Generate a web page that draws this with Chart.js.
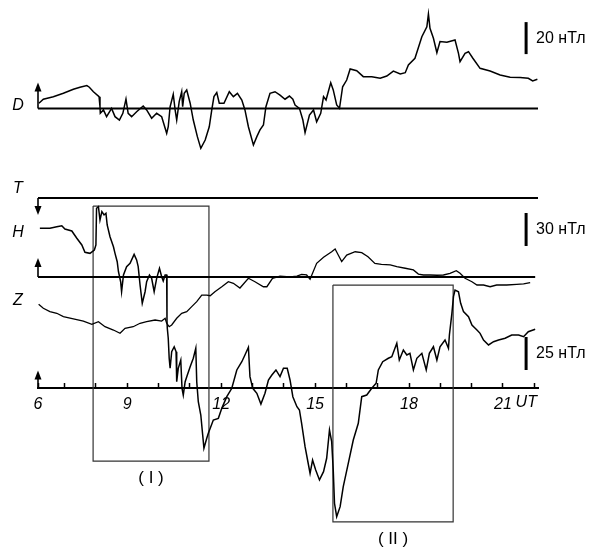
<!DOCTYPE html>
<html>
<head>
<meta charset="utf-8">
<script src="https://cdn.jsdelivr.net/npm/chart.js@4.4.0/dist/chart.umd.min.js"></script>
<style>
  html, body { margin: 0; padding: 0; background: #fff; }
  #wrap { width: 595px; height: 550px; }
</style>
</head>
<body>
<div id="wrap"><canvas id="mag" width="595" height="550"></canvas></div>
<script>
// --- магнитограмма D, H, Z (нТл) по времени UT ---

// время в часах UT и значения в нТл относительно базовой линии
const dTime = [
  6.18, 6.32, 6.64, 6.96, 7.28, 7.49, 7.71, 7.79, 7.92, 8.10,
  8.13, 8.14, 8.24, 8.34, 8.50, 8.61, 8.75, 8.86, 8.96, 9.03,
  9.14, 9.30, 9.51, 9.62, 9.78, 9.94, 10.10, 10.26, 10.31, 10.37,
  10.47, 10.53, 10.58, 10.66, 10.74, 10.77, 10.82, 10.90, 11.01, 11.11,
  11.24, 11.35, 11.49, 11.62, 11.70, 11.77, 11.86, 11.94, 12.09, 12.26,
  12.39, 12.52, 12.66, 12.76, 12.87, 13.03, 13.14, 13.24, 13.35, 13.43,
  13.56, 13.72, 13.88, 14.04, 14.18, 14.29, 14.36, 14.50, 14.61, 14.68,
  14.82, 14.95, 15.05, 15.18, 15.27, 15.35, 15.50, 15.58, 15.69, 15.78,
  15.88, 16.01, 16.12, 16.33, 16.54, 16.81, 17.08, 17.29, 17.50, 17.72,
  17.88, 17.98, 18.19, 18.41, 18.57, 18.62, 18.67, 18.78, 18.89, 18.99,
  19.21, 19.47, 19.58, 19.63, 19.79, 19.90, 20.04, 20.27, 20.59, 20.91,
  21.23, 21.55, 21.81, 21.95, 22.10
];
const dValues = [
  3.3, 5.8, 7.4, 9.5, 12.0, 13.3, 14.3, 13.3, 10.5, 7.4,
  1.1, -3.0, -0.9, -5.1, 0.1, -5.1, -7.2, -3.0, 5.9, -3.0,
  -5.1, -2.0, 1.6, -0.9, -6.1, -3.0, -5.1, -15.5, -11.4, 1.1,
  8.9, -0.9, -7.2, 4.3, 10.5, 1.1, 9.5, 11.6, 3.3, -7.2,
  -17.6, -24.9, -19.7, -11.4, -0.9, 7.4, 9.9, 3.3, 3.3, 10.5,
  7.4, 9.5, 5.3, -0.9, -11.4, -22.8, -17.6, -13.4, -10.3, 1.1,
  9.5, 10.5, 8.4, 5.8, 7.8, 5.8, 2.2, 0.1, -7.2, -15.1,
  -4.1, -0.9, -8.3, -3.0, 7.4, 5.3, 16.1, 11.6, 2.2, 0.1,
  13.6, 17.8, 24.7, 23.6, 19.9, 19.9, 18.9, 20.3, 23.4, 21.6,
  22.4, 27.2, 31.4, 44.9, 51.1, 59.1, 50.1, 43.9, 34.9, 41.8,
  41.4, 42.8, 34.5, 29.3, 34.5, 35.5, 31.4, 25.1, 23.4, 20.9,
  19.5, 19.3, 18.9, 17.2, 18.3
];

const hTime = [
  6.21, 6.53, 6.75, 6.91, 7.01, 7.23, 7.39, 7.55, 7.65, 7.81,
  7.95, 8.00, 8.02, 8.08, 8.13, 8.19, 8.26, 8.32, 8.36, 8.45,
  8.56, 8.61, 8.68, 8.72, 8.79, 8.82, 8.88, 8.98, 9.09, 9.22,
  9.30, 9.35, 9.41, 9.48, 9.57, 9.62, 9.71, 9.78, 9.86, 9.94,
  10.03, 10.10, 10.15, 10.21, 10.26, 10.27, 10.28, 10.31, 10.34, 10.37,
  10.42, 10.50, 10.56, 10.58, 10.63, 10.71, 10.75, 10.79, 10.85, 10.92,
  11.01, 11.11, 11.19, 11.22, 11.27, 11.35, 11.41, 11.45, 11.54, 11.59,
  11.75, 11.91, 12.02, 12.18, 12.34, 12.50, 12.66, 12.76, 12.87, 12.92,
  13.01, 13.14, 13.27, 13.40, 13.51, 13.62, 13.75, 13.88, 13.99, 14.11,
  14.20, 14.29, 14.42, 14.50, 14.57, 14.68, 14.79, 14.84, 14.92, 15.02,
  15.14, 15.27, 15.37, 15.46, 15.53, 15.58, 15.62, 15.69, 15.80, 15.90,
  16.06, 16.22, 16.38, 16.49, 16.65, 16.81, 16.95, 17.02, 17.16, 17.34,
  17.45, 17.61, 17.69, 17.82, 17.93, 18.03, 18.14, 18.25, 18.41, 18.55,
  18.65, 18.78, 18.89, 18.99, 19.15, 19.26, 19.29, 19.37, 19.42, 19.47,
  19.58, 19.65, 19.74, 19.90, 20.01, 20.17, 20.27, 20.38, 20.54, 20.70,
  20.86, 21.07, 21.28, 21.50, 21.66, 21.81, 22.03
];
const hValues = [
  44.3, 44.3, 45.7, 46.6, 43.6, 41.8, 35.2, 29.1, 22.5, 21.5,
  24.5, 29.1, 62.5, 63.9, 51.8, 59.4, 56.4, 57.9, 47.3, 36.6,
  27.5, 21.5, 13.9, 4.8, -4.3, -13.4, 1.8, 9.4, 12.5, 20.6,
  15.5, 9.4, -7.3, -23.9, -13.4, -4.3, 1.8, -1.2, -13.4, -1.2,
  7.9, 0.3, -3.6, 1.8, 1.8, -40.0, -46.6, -55.7, -73.9, -83.0,
  -67.9, -63.4, -67.9, -95.2, -83.0, -75.5, -101.2, -107.3, -95.2, -89.1,
  -81.5, -73.9, -64.8, -95.2, -113.4, -125.5, -143.6, -155.7, -146.6, -142.1,
  -130.0, -128.5, -119.4, -108.8, -101.2, -84.5, -77.0, -70.9, -63.9, -90.6,
  -101.2, -105.7, -115.5, -105.7, -93.6, -89.1, -84.5, -90.6, -83.0, -83.0,
  -93.6, -108.8, -117.9, -120.9, -133.0, -154.3, -170.9, -178.5, -166.4, -175.5,
  -184.5, -177.0, -164.8, -139.1, -149.7, -175.5, -205.7, -217.9, -208.8, -190.6,
  -169.4, -148.2, -133.0, -108.8, -107.3, -101.2, -96.6, -84.5, -77.0, -73.9,
  -72.5, -60.3, -75.5, -66.4, -70.9, -69.4, -84.5, -73.9, -69.4, -84.5,
  -69.4, -63.4, -75.5, -63.4, -57.3, -64.8, -52.7, -33.0, -17.9, -11.8,
  -13.4, -23.9, -31.5, -36.1, -43.6, -48.2, -51.2, -57.3, -61.8, -58.8,
  -57.3, -55.7, -52.7, -52.7, -54.3, -49.7, -47.5
];

const zTime = [
  6.17, 6.32, 6.53, 6.75, 6.96, 7.28, 7.60, 7.87, 8.08, 8.29,
  8.56, 8.77, 8.93, 9.19, 9.41, 9.62, 9.89, 10.10, 10.21, 10.26,
  10.34, 10.42, 10.58, 10.74, 10.90, 11.06, 11.22, 11.38, 11.54, 11.65,
  11.80, 12.02, 12.23, 12.39, 12.60, 12.87, 13.08, 13.35, 13.46, 13.64,
  13.88, 14.20, 14.42, 14.57, 14.73, 14.84, 15.05, 15.27, 15.53, 15.64,
  15.74, 15.85, 16.01, 16.28, 16.49, 16.69, 16.91, 17.12, 17.40, 17.61,
  17.88, 18.14, 18.30, 18.46, 18.67, 18.89, 19.10, 19.31, 19.51, 19.63,
  19.79, 20.01, 20.17, 20.38, 20.59, 20.80, 21.12, 21.44, 21.66, 21.87
];
const zValues = [
  63.8, 60.8, 58.2, 57.0, 54.4, 52.7, 51.1, 48.6, 50.6, 46.8,
  44.3, 41.8, 45.6, 46.8, 49.4, 50.6, 51.9, 51.1, 53.2, 49.4,
  46.8, 48.1, 53.2, 57.0, 58.2, 62.0, 65.8, 70.8, 70.8, 70.3,
  73.3, 77.1, 80.9, 79.7, 76.1, 83.5, 80.9, 77.1, 77.1, 83.5,
  85.2, 84.5, 85.2, 86.5, 86.0, 82.7, 94.8, 99.4, 103.6, 105.7,
  101.1, 96.1, 101.1, 103.6, 102.9, 99.8, 94.8, 94.1, 93.6, 92.3,
  91.1, 89.8, 86.7, 86.0, 86.0, 85.8, 86.0, 87.3, 89.2, 87.3,
  83.5, 80.9, 78.4, 78.4, 77.1, 78.4, 78.4, 78.9, 79.2, 80.2
];

// метки оси времени
const tickHours = [7, 8, 9, 10, 11, 12, 13, 14, 15, 16, 17, 18, 19, 20, 21, 22];
const labelHours = [6, 9, 12, 15, 18, 21];

// масштабные отрезки и выделенные интервалы (I), (II)
const barSizes = [20, 30, 25];
const barLabels = ['20 нТл', '30 нТл', '25 нТл'];
const boxTimes = [[7.91, 11.61], [15.57, 19.41]];
const boxH = [[64.5, -167.3], [-7.3, -222.7]];
const boxLabels = ['( I )', '( II )'];

// --- раскладка (пиксели) ---
const W = 595, HGT = 550;
const X_MIN = 6.15, X_MAX = 22.12;
const layoutCh = {
  yD: { base: 108.5, k: 1.6 },
  yT: { base: 198, k: 1 },
  yH: { base: 277, k: 1.1 },
  yZ: { base: 388.5, k: 1.32 }
};
const barPlace = { t: 21.74, from: { yD: 34, yH: 28.2, yZ: 14 } };
const FONT = "'Liberation Sans', Arial, Helvetica, sans-serif";

function yAxis(id) {
  const c = layoutCh[id];
  return { type: 'linear', display: false, min: -(HGT - c.base) / c.k, max: c.base / c.k };
}

function line(points, axis, width, color) {
  return {
    data: points, yAxisID: axis, borderColor: color || '#000', borderWidth: width,
    pointRadius: 0, tension: 0, fill: false
  };
}

const toPts = (ts, vs) => ts.map((t, i) => ({ x: t, y: vs[i] }));
const flat = [{ x: X_MIN, y: 0 }, { x: X_MAX, y: 0 }];

const datasets = [
  line(flat, 'yD', 2),
  line(flat, 'yT', 2),
  line([{ x: X_MIN, y: 0 }, { x: 22.03, y: 0 }], 'yH', 2),
  line(toPts(dTime, dValues), 'yD', 1.5),
  line(toPts(hTime, hValues), 'yH', 1.5),
  line(toPts(zTime, zValues), 'yZ', 1.3)
];

boxTimes.forEach(([t0, t1], i) => {
  const [top, bot] = boxH[i];
  datasets.push(line([
    { x: t0, y: top }, { x: t1, y: top }, { x: t1, y: bot }, { x: t0, y: bot }, { x: t0, y: top }
  ], 'yH', 1.2, '#333'));
});

['yD', 'yH', 'yZ'].forEach((ax, i) => {
  const f = barPlace.from[ax];
  datasets.push(line([{ x: barPlace.t, y: f }, { x: barPlace.t, y: f + barSizes[i] }], ax, 3));
});

// стрелки, подписи каналов и прочий текст
const decor = {
  id: 'decor',
  afterDraw(chart) {
    const ctx = chart.ctx;
    const xs = chart.scales.x;
    const x0 = xs.getPixelForValue(X_MIN);
    ctx.save();
    ctx.fillStyle = '#000';
    ctx.strokeStyle = '#000';

    // стрелки у базовых линий
    [['yD', -1, 26], ['yT', 1, 17], ['yH', -1, 19], ['yZ', -1, 18]].forEach(([ax, dir, len]) => {
      const y0 = chart.scales[ax].getPixelForValue(0);
      const tip = y0 + dir * len;
      ctx.lineWidth = 1.6;
      ctx.beginPath();
      ctx.moveTo(x0, y0);
      ctx.lineTo(x0, tip - dir * 6);
      ctx.stroke();
      ctx.beginPath();
      ctx.moveTo(x0, tip);
      ctx.lineTo(x0 - 3.5, tip - dir * 9);
      ctx.lineTo(x0 + 3.5, tip - dir * 9);
      ctx.closePath();
      ctx.fill();
    });

    // D, T, H, Z
    ctx.font = 'italic 16px ' + FONT;
    ctx.textAlign = 'center';
    ctx.textBaseline = 'middle';
    [['D', 106], ['T', 189], ['H', 233], ['Z', 301]].forEach(([s, y]) => ctx.fillText(s, 18, y));

    // UT
    ctx.fillText('UT', xs.getPixelForValue(22) - 8, 403);

    // подписи масштабных отрезков
    ctx.font = '16px ' + FONT;
    ctx.textAlign = 'left';
    const bx = xs.getPixelForValue(barPlace.t);
    ['yD', 'yH', 'yZ'].forEach((ax, i) => {
      const s = chart.scales[ax];
      const f = barPlace.from[ax];
      const yc = (s.getPixelForValue(f) + s.getPixelForValue(f + barSizes[i])) / 2;
      ctx.fillText(barLabels[i], bx + 10, yc);
    });

    // (I), (II)
    ctx.font = '17px ' + FONT;
    ctx.textAlign = 'center';
    const hs = chart.scales.yH;
    boxTimes.forEach(([t0, t1], i) => {
      const cx = (xs.getPixelForValue(t0) + xs.getPixelForValue(t1)) / 2;
      ctx.fillText(boxLabels[i], cx, hs.getPixelForValue(boxH[i][1]) + 17);
    });
    ctx.restore();
  }
};

new Chart(document.getElementById('mag').getContext('2d'), {
  type: 'line',
  data: { datasets },
  options: {
    responsive: false,
    animation: false,
    events: [],
    layout: { padding: { left: 38, right: W - 538, top: 0, bottom: 0 } },
    plugins: { legend: { display: false }, tooltip: { enabled: false } },
    scales: {
      x: {
        type: 'linear',
        min: X_MIN,
        max: X_MAX,
        position: { yZ: 0 },
        afterBuildTicks: s => { s.ticks = [X_MIN].concat(tickHours).map(v => ({ value: v })); },
        afterFit: s => { s.height = 0; },
        grid: { drawOnChartArea: false, tickLength: -6, tickColor: '#000', tickWidth: 1.5 },
        border: { color: '#000', width: 2 },
        ticks: {
          autoSkip: false,
          maxRotation: 0,
          padding: 12,
          color: '#000',
          font: { family: FONT, size: 16, style: 'italic' },
          callback: v => v === X_MIN ? '6' : (labelHours.includes(v) ? String(v) : '')
        }
      },
      yD: yAxis('yD'),
      yT: yAxis('yT'),
      yH: yAxis('yH'),
      yZ: yAxis('yZ')
    }
  },
  plugins: [decor]
});
</script>
</body>
</html>
